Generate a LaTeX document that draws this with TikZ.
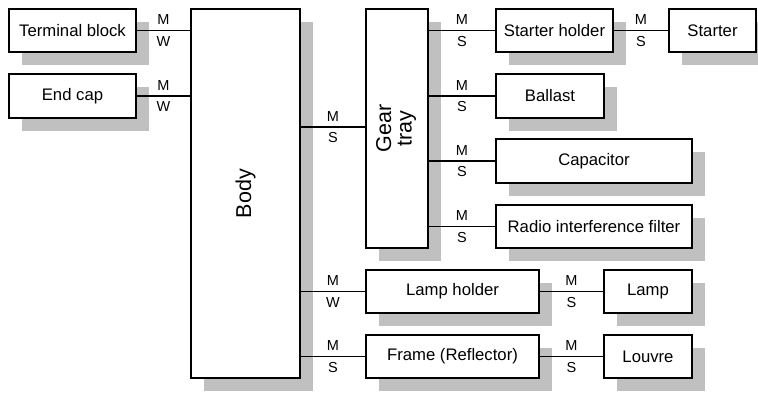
\documentclass[tikz,border=0pt]{standalone}
\usepackage{fontspec}
\setmainfont{Liberation Sans}
\usetikzlibrary{shadows}
\definecolor{shadowgray}{RGB}{192,192,192}
\begin{document}
\begin{tikzpicture}[x=1pt,y=-1pt,
  box/.style={draw=black, line width=1.3pt, fill=white, inner sep=0pt, outer sep=0pt,
    font=\fontsize{16.7}{20}\selectfont,
    drop shadow={shadow xshift=13pt, shadow yshift=-13pt, fill=shadowgray, opacity=1, draw=none}},
  bigbox/.style={box, font=\fontsize{21.5}{20.5}\selectfont},
  conn/.style={line width=1.3pt},
  lab/.style={inner sep=0pt, font=\fontsize{14.5}{17}\selectfont},
  labup/.style={lab, above=5pt},
  labdn/.style={lab, below=5pt}]
\useasboundingbox (0,0) rectangle (758,392);

\node[box, minimum width=127pt, minimum height=43pt] (tb) at (72.5,30.5) {Terminal block};
\node[box, minimum width=127pt, minimum height=44pt] (ec) at (72.5,96) {End cap};
\node[bigbox, minimum width=109pt, minimum height=369pt] (body) at (245.5,193.5) {\rotatebox{90}{Body}};
\node[bigbox, minimum width=62pt, minimum height=239pt] (gear) at (397,128.5)
  {\rotatebox{90}{\begin{tabular}{@{}c@{}}Gear\\tray\end{tabular}}};
\node[box, minimum width=117pt, minimum height=43pt] (sh) at (554.5,30.5) {Starter holder};
\node[box, minimum width=87pt, minimum height=43pt] (st) at (712.5,30.5) {Starter};
\node[box, minimum width=108pt, minimum height=44pt] (ba) at (550,96) {Ballast};
\node[box, minimum width=196pt, minimum height=44pt] (ca) at (594,161) {Capacitor};
\node[box, minimum width=196pt, minimum height=43pt] (rf) at (594,226.5) {Radio interference filter};
\node[box, minimum width=173pt, minimum height=43pt] (lh) at (452.5,291.5) {Lamp holder};
\node[box, minimum width=88pt, minimum height=43pt] (la) at (648,291.5) {Lamp};
\node[box, minimum width=173pt, minimum height=43pt] (fr) at (452.5,356.5) {Frame (Reflector)};
\node[box, minimum width=88pt, minimum height=43pt] (lo) at (648,356.5) {Louvre};

\draw[conn] (tb.east) -- node[labup]{M} node[labdn]{W} (tb.east -| body.west);
\draw[conn] (ec.east) -- node[labup]{M} node[labdn]{W} (ec.east -| body.west);
\draw[conn] (gear.west |- 0,127) -- node[labup]{M} node[labdn]{S} (body.east |- 0,127);
\draw[conn] (lh.west) -- node[labup]{M} node[labdn]{W} (lh.west -| body.east);
\draw[conn] (fr.west) -- node[labup]{M} node[labdn]{S} (fr.west -| body.east);
\draw[conn] (sh.west) -- node[labup]{M} node[labdn]{S} (sh.west -| gear.east);
\draw[conn] (ba.west) -- node[labup]{M} node[labdn]{S} (ba.west -| gear.east);
\draw[conn] (ca.west) -- node[labup]{M} node[labdn]{S} (ca.west -| gear.east);
\draw[conn] (rf.west) -- node[labup]{M} node[labdn]{S} (rf.west -| gear.east);
\draw[conn] (sh.east) -- node[labup]{M} node[labdn]{S} (st.west);
\draw[conn] (lh.east) -- node[labup]{M} node[labdn]{S} (la.west);
\draw[conn] (fr.east) -- node[labup]{M} node[labdn]{S} (lo.west);
\end{tikzpicture}
\end{document}
